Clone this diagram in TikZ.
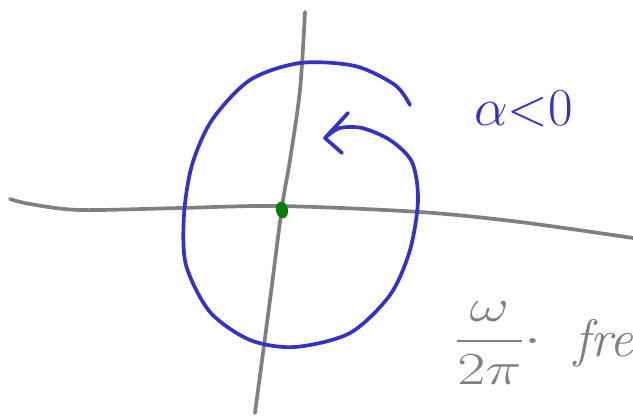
\documentclass[tikz,border=0pt]{standalone}
\usepackage{amsmath}
\usepackage{xcolor}
\usetikzlibrary{positioning,shapes.geometric}
\definecolor{sgray}{RGB}{128,128,128}
\definecolor{sblue}{RGB}{51,51,204}
\definecolor{sgreen}{RGB}{0,128,0}
\tikzset{
  axisline/.style={draw=sgray, line width=2.1pt, line cap=round, line join=round},
  spiral/.style  ={draw=sblue, line width=2.1pt, line cap=round, line join=round},
  dotmark/.style ={ellipse, fill=sgreen, minimum width=2.4mm, minimum height=3.4mm, inner sep=0pt},
  note/.style    ={inner sep=0pt, anchor=west}
}

\begin{document}
\begin{tikzpicture}[x=0.02cm, y=-0.02cm]
\clip (0,0) rectangle (633,416);
\fill[white] (0,0) rectangle (633,416);
% axes
\draw[axisline] plot[smooth] coordinates {(10,199) (30,204) (80,210) (180,208) (280,206) (420,212) (520,222) (633,238)};
\draw[axisline] plot[smooth] coordinates {(305,12) (300,90) (290,160) (282,207) (270,300) (255,413)};
% spiral
\draw[spiral] plot[smooth] coordinates {(410,105) (395,85) (355,66) (300,63) (250,80) (212,120) (192,165) (184,215) (186,265) (210,312) (250,340) (295,347) (350,333) (390,295) (410,250) (418,200) (412,162) (390,140) (362,128) (340,128) (327,136)};
\coordinate (tip) at (325,138);
\coordinate (barb1) at (348,113);
\coordinate (barb2) at (342,153);
\draw[spiral] (barb1) -- (tip) -- (barb2);
% origin
\node[dotmark, rotate=10] (origin) at (282,210) {};
% labels
\node[note, text=sblue] (alpha) at (474,109) {\Huge\scalebox{1.22}{$\alpha{<}0$}};
\node[note, text=sgray] (frac) at (454,343) {\Huge\scalebox{1.4}[1.05]{$\dfrac{\omega}{2\pi}\cdot$}};
\node[note, text=sgray] (freq) at (574,343) {\fontsize{30}{36}\selectfont\textit{fre}};
\end{tikzpicture}
\end{document}
